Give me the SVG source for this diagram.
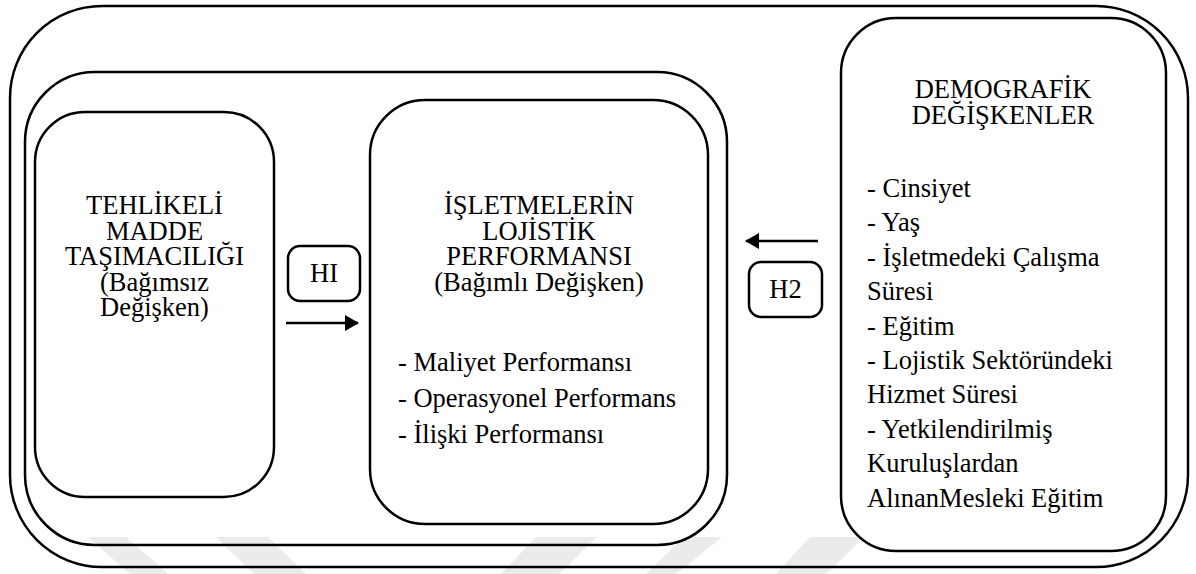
<svg xmlns="http://www.w3.org/2000/svg" width="1196" height="574" viewBox="0 0 1196 574">
  <style>
    .frame { fill: none; stroke: #000; stroke-width: 2.5; }
    .box { fill: none; stroke: #000; stroke-width: 2.5; }
    .t { font-family: "Liberation Serif", "Times New Roman", serif; font-size: 26.5px; fill: #000; }
    .c { text-anchor: middle; }
    .wm { fill: #ebebeb; }
    .edge { fill: none; stroke: #000; stroke-width: 2.5; }
  </style>
  <defs>
    <marker id="head" markerUnits="userSpaceOnUse" markerWidth="14" markerHeight="16" refX="13" refY="8" orient="auto">
      <path d="M0,0 L14,8 L0,16 Z" fill="#000"/>
    </marker>
  </defs>

  <rect width="1196" height="574" fill="#fff"/>

  <!-- faint background watermark bands along the bottom edge -->
  <g id="watermark">
    <polygon class="wm" points="88,537 126,537 168,574 130,574"/>
    <polygon class="wm" points="216,537 268,537 306,574 254,574"/>
    <polygon class="wm" points="536,537 597,537 559,574 501,574"/>
    <polygon class="wm" points="684,537 722,537 676,574 646,574"/>
    <polygon class="wm" points="810,537 864,537 826,574 776,574"/>
  </g>

  <!-- enclosing frames -->
  <g id="outer-frame">
    <rect class="frame" x="10" y="6" width="1178" height="561" rx="92" ry="92"/>
  </g>
  <g id="inner-frame">
    <rect class="frame" x="25" y="72" width="702" height="473" rx="70" ry="70"/>
  </g>

  <!-- independent variable -->
  <g id="node-tehlikeli">
    <rect class="box" x="35" y="112" width="239" height="385" rx="50" ry="50"/>
    <text class="t c" x="154.5" y="214">TEHLİKELİ</text>
    <text class="t c" x="154.5" y="239.5">MADDE</text>
    <text class="t c" x="154.5" y="265">TAŞIMACILIĞI</text>
    <text class="t c" x="154.5" y="290.5">(Bağımsız</text>
    <text class="t c" x="154.5" y="316">Değişken)</text>
  </g>

  <!-- dependent variable -->
  <g id="node-performans">
    <rect class="box" x="370" y="100" width="338" height="424" rx="55" ry="55"/>
    <text class="t c" x="539" y="214">İŞLETMELERİN</text>
    <text class="t c" x="539" y="239.5">LOJİSTİK</text>
    <text class="t c" x="539" y="265">PERFORMANSI</text>
    <text class="t c" x="539" y="290.5">(Bağımlı Değişken)</text>
    <text class="t" x="398" y="371">- Maliyet Performansı</text>
    <text class="t" x="398" y="407">- Operasyonel Performans</text>
    <text class="t" x="398" y="443">- İlişki Performansı</text>
  </g>

  <!-- demographic variables -->
  <g id="node-demografik">
    <rect class="box" x="841" y="18" width="325" height="533" rx="55" ry="55"/>
    <text class="t c" x="1003" y="98">DEMOGRAFİK</text>
    <text class="t c" x="1003" y="123.5">DEĞİŞKENLER</text>
    <text class="t" x="867" y="197">- Cinsiyet</text>
    <text class="t" x="867" y="231.4">- Yaş</text>
    <text class="t" x="867" y="265.8">- İşletmedeki Çalışma</text>
    <text class="t" x="867" y="300.2">Süresi</text>
    <text class="t" x="867" y="334.6">- Eğitim</text>
    <text class="t" x="867" y="369">- Lojistik Sektöründeki</text>
    <text class="t" x="867" y="403.4">Hizmet Süresi</text>
    <text class="t" x="867" y="437.8">- Yetkilendirilmiş</text>
    <text class="t" x="867" y="472.2">Kuruluşlardan</text>
    <text class="t" x="867" y="506.6">AlınanMesleki Eğitim</text>
  </g>

  <!-- hypothesis labels -->
  <g id="node-h1">
    <rect class="box" x="288" y="246" width="72" height="55" rx="12" ry="12"/>
    <text class="t c" x="324" y="282">HI</text>
  </g>
  <g id="node-h2">
    <rect class="box" x="749" y="262" width="73" height="55" rx="12" ry="12"/>
    <text class="t c" x="785.5" y="298">H2</text>
  </g>

  <!-- connectors -->
  <g id="connectors">
    <line class="edge" x1="286" y1="323" x2="358" y2="323" marker-end="url(#head)"/>
    <line class="edge" x1="818" y1="241" x2="746" y2="241" marker-end="url(#head)"/>
  </g>
</svg>
